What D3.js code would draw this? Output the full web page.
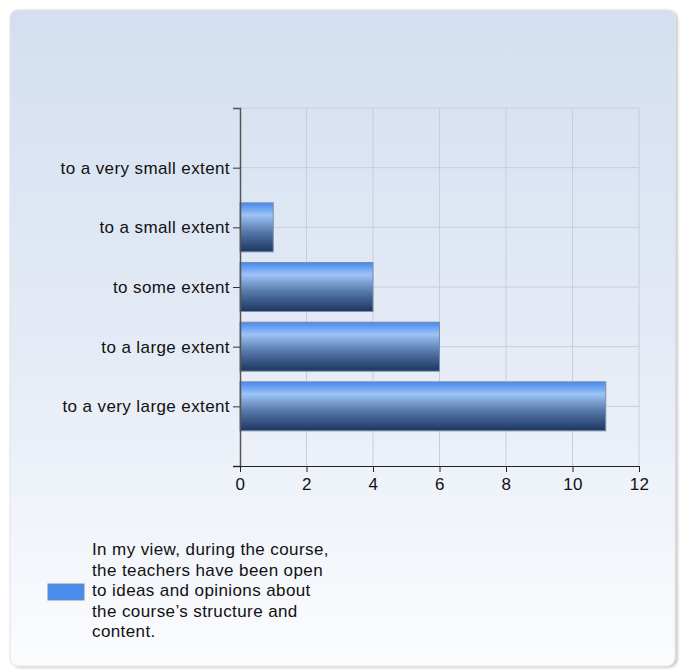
<!DOCTYPE html>
<html>
<head>
<meta charset="utf-8">
<script src="https://cdn.jsdelivr.net/npm/d3@7"></script>
<style>
  body { margin: 0; background: #fff; }
  svg text { font-family: Arial, "Liberation Sans", sans-serif; fill: #111; letter-spacing: 0.4px; }
</style>
</head>
<body>
<div id="chart"></div>
<script>
const categories = ["to a very small extent", "to a small extent", "to some extent", "to a large extent", "to a very large extent"];
const values = [0, 1, 4, 6, 11];
const xTicks = [0, 2, 4, 6, 8, 10, 12];
const legendLines = ["In my view, during the course,", "the teachers have been open", "to ideas and opinions about", "the course\u2019s structure and", "content."];

const width = 684, height = 670;
const plot = { left: 240, right: 639, top: 108, bottom: 466 };
const fontSize = "17px";

const svg = d3.select("#chart").append("svg")
  .attr("width", width).attr("height", height);

const defs = svg.append("defs");
const bg = defs.append("linearGradient").attr("id", "bg").attr("x1", 0).attr("y1", 0).attr("x2", 0).attr("y2", 1);
bg.append("stop").attr("offset", "0%").attr("stop-color", "#d3dff0");
bg.append("stop").attr("offset", "55%").attr("stop-color", "#e6ecf6");
bg.append("stop").attr("offset", "100%").attr("stop-color", "#fbfcfe");

const barGrad = defs.append("linearGradient").attr("id", "bar").attr("x1", 0).attr("y1", 0).attr("x2", 0).attr("y2", 1);
barGrad.append("stop").attr("offset", "0%").attr("stop-color", "#4488ee");
barGrad.append("stop").attr("offset", "25%").attr("stop-color", "#9dc3f6");
barGrad.append("stop").attr("offset", "60%").attr("stop-color", "#5577a8");
barGrad.append("stop").attr("offset", "100%").attr("stop-color", "#1c3560");

const shadow = defs.append("filter").attr("id", "shadow").attr("x", "-5%").attr("y", "-5%").attr("width", "110%").attr("height", "110%");
shadow.append("feDropShadow").attr("dx", 2).attr("dy", 1).attr("stdDeviation", 1.5).attr("flood-color", "#000").attr("flood-opacity", 0.25);

// panel
svg.append("rect")
  .attr("x", 10).attr("y", 10).attr("width", 665).attr("height", 656)
  .attr("rx", 8)
  .attr("fill", "url(#bg)")
  .attr("stroke", "#dfe3ea")
  .attr("filter", "url(#shadow)");

const x = d3.scaleLinear().domain([0, 12]).range([plot.left, plot.right]);
const y = d3.scalePoint().domain(categories).range([plot.top, plot.bottom]).padding(1);
const barH = 49;

// grid
const grid = svg.append("g");
grid.selectAll("line.v").data(xTicks.slice(1)).enter().append("line")
  .attr("x1", d => x(d)).attr("x2", d => x(d))
  .attr("y1", plot.top).attr("y2", plot.bottom)
  .attr("stroke", "#c9ced8").attr("stroke-width", 1);
grid.selectAll("line.h").data(categories).enter().append("line")
  .attr("x1", plot.left).attr("x2", plot.right)
  .attr("y1", d => y(d)).attr("y2", d => y(d))
  .attr("stroke", "#c9ced8").attr("stroke-width", 1);
grid.append("line")
  .attr("x1", plot.left).attr("x2", plot.right)
  .attr("y1", plot.top).attr("y2", plot.top)
  .attr("stroke", "#c9ced8");

// bars
svg.selectAll("rect.bar").data(values.map((v, i) => ({ v, c: categories[i] })).filter(d => d.v > 0))
  .enter().append("rect")
  .attr("class", "bar")
  .attr("x", x(0))
  .attr("y", d => y(d.c) - barH / 2)
  .attr("width", d => x(d.v) - x(0))
  .attr("height", barH)
  .attr("fill", "url(#bar)")
  .attr("stroke", "#7d8ea8")
  .attr("stroke-width", 1);

// y axis
const yAxis = svg.append("g")
  .attr("transform", `translate(${plot.left},0)`)
  .call(d3.axisLeft(y).tickSize(7).tickPadding(3).tickSizeOuter(7));
yAxis.select(".domain").attr("stroke", "#555").attr("stroke-width", 1.5);
yAxis.selectAll(".tick line").attr("stroke", "#333");
yAxis.selectAll("text").style("font-size", fontSize);

// x axis
const xAxis = svg.append("g")
  .attr("transform", `translate(0,${plot.bottom})`)
  .call(d3.axisBottom(x).tickValues(xTicks).tickSize(6).tickPadding(6).tickSizeOuter(0));
xAxis.select(".domain").attr("stroke", "#222").attr("d", `M${plot.left - 7},0.5H${plot.right}`);
xAxis.selectAll(".tick line").attr("stroke", "#222");
xAxis.selectAll("text").style("font-size", fontSize);

// legend
svg.append("rect")
  .attr("x", 48).attr("y", 584).attr("width", 36).attr("height", 16)
  .attr("fill", "#4a8cee").attr("stroke", "#7b8ca4");
svg.append("g").selectAll("text").data(legendLines).enter().append("text")
  .attr("x", 92).attr("y", (d, i) => 555 + i * 20.5)
  .style("font-size", fontSize)
  .text(d => d);
</script>
</body>
</html>
